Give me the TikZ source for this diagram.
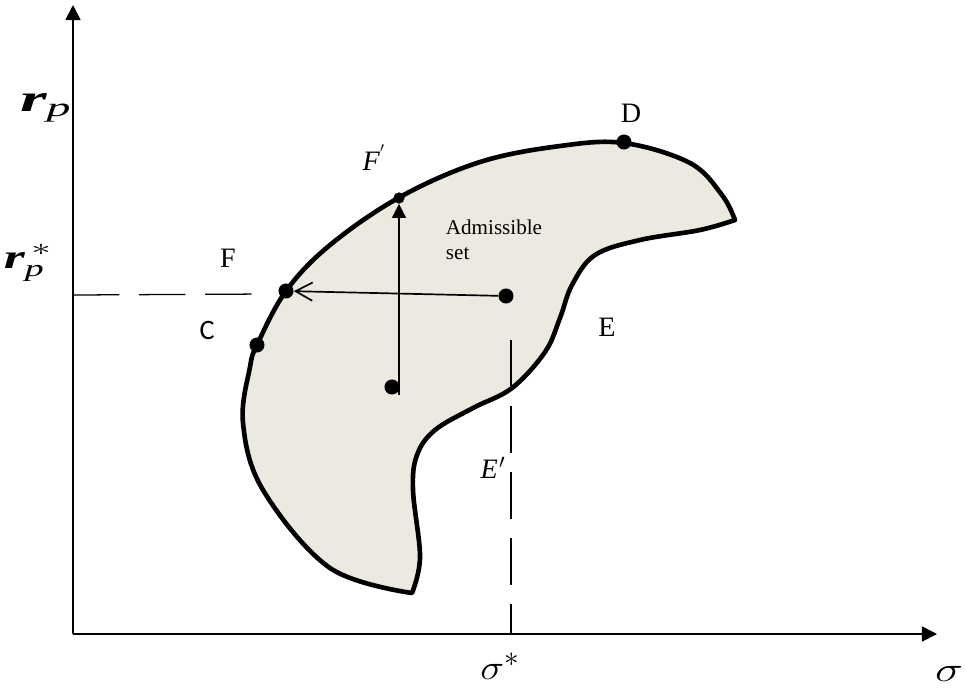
\documentclass[tikz,border=0pt]{standalone}
\usepackage{fontspec}
\setmainfont{Liberation Serif}
\newfontfamily\calib{Carlito}
\usepackage{amsmath}
\usetikzlibrary{arrows.meta}
\definecolor{setfill}{RGB}{236,234,224}
\tikzset{
  spot/.style={circle,fill=black,inner sep=0pt,minimum size=#1},
  spot/.default=10.7pt,
  ax/.style={line width=1.2pt,-{Triangle[length=10.7pt,width=10.7pt]}},
  gap/.style={line width=0.9pt,dash pattern=on 33pt off 14pt},
  lbl/.style={font=\fontsize{20}{24}\selectfont},
}
\newcommand{\rvar}{\text{\bfseries\itshape r}}
\begin{document}
\begin{tikzpicture}[x=0.025cm,y=-0.025cm]
\useasboundingbox (0,0) rectangle (966,692);
% the admissible set
\draw[line width=3.3pt,line join=round,fill=setfill]
  plot[smooth,tension=0.6] coordinates {(412,593) (330,568) (263,490) (243,423) (250,367) (257,345) (286,291) (330,245) (400,197) (480,162) (560,146) (624,143) (690,163) (722,195) (735,220)}
  -- plot[smooth,tension=0.6] coordinates {(735,220) (700,230) (640,240) (595,255) (572,285) (560,318) (545,352) (512,388) (473,408) (435,430) (417,455) (413,490) (420,557) (412,593)} -- cycle;
% axes
\coordinate (O) at (73,634);
\coordinate (ytop) at (73,5);
\coordinate (xend) at (937,634);
\draw[ax] (O) -- (ytop);
\draw[ax] (O) -- (xend);
% points
\node[spot] (C) at (257,345) {};
\node[spot] (F) at (286,291) {};
\node[spot=8pt] (Fp) at (399,198) {};
\node[spot] (D) at (624,142) {};
\node[spot] (Q) at (506,296) {};
\node[spot] (P) at (392,387) {};
\coordinate (Pv) at (399,395);
\draw[line width=1.2pt,-{Triangle[length=10pt,width=10pt]}] (Pv) -- (Fp.south);
\draw[line width=1.2pt,-{Straight Barb[length=12pt,width=13pt]}] (Q) -- (F);
% dashed guides
\coordinate (ry) at (73,295);
\coordinate (rend) at (268,294);
\draw[gap] (ry) -- (rend);
\coordinate (stop) at (511,340);
\coordinate (sx) at (511,634);
\draw[gap] (stop) -- (sx);
% labels
\node (rp) at (46,108) {\scalebox{1.8}[1]{\fontsize{27}{30}\selectfont$\rvar_{\text{\itshape p}}$}};
\node (rps) at (28,263) {\scalebox{1.6}[1]{\fontsize{24}{28}\selectfont$\rvar_{\text{\itshape p}}^{\,*}$}};
\node[lbl] (lFp) at (374,158) {\textit{F}$^{'}$};
\node[lbl] (lF) at (228,258) {F};
\node[lbl] (lC) at (207,330) {\calib C};
\node[lbl] (lD) at (631,113) {D};
\node[lbl] (lE) at (607,327) {E};
\node[lbl] (lEp) at (493,468) {\textit{E\kern1pt$'$}};
\node[font=\fontsize{15}{18}\selectfont,align=left,anchor=west] (adm) at (441,240) {Admissible\\set};
\node (ss) at (500,666) {\fontsize{24.88}{28}\selectfont\scalebox{1.15}[1]{$\sigma$}$^{*}$};
\node (s) at (949,674) {\fontsize{24.88}{28}\selectfont\scalebox{1.35}[1]{$\sigma$}};
\end{tikzpicture}
\end{document}
